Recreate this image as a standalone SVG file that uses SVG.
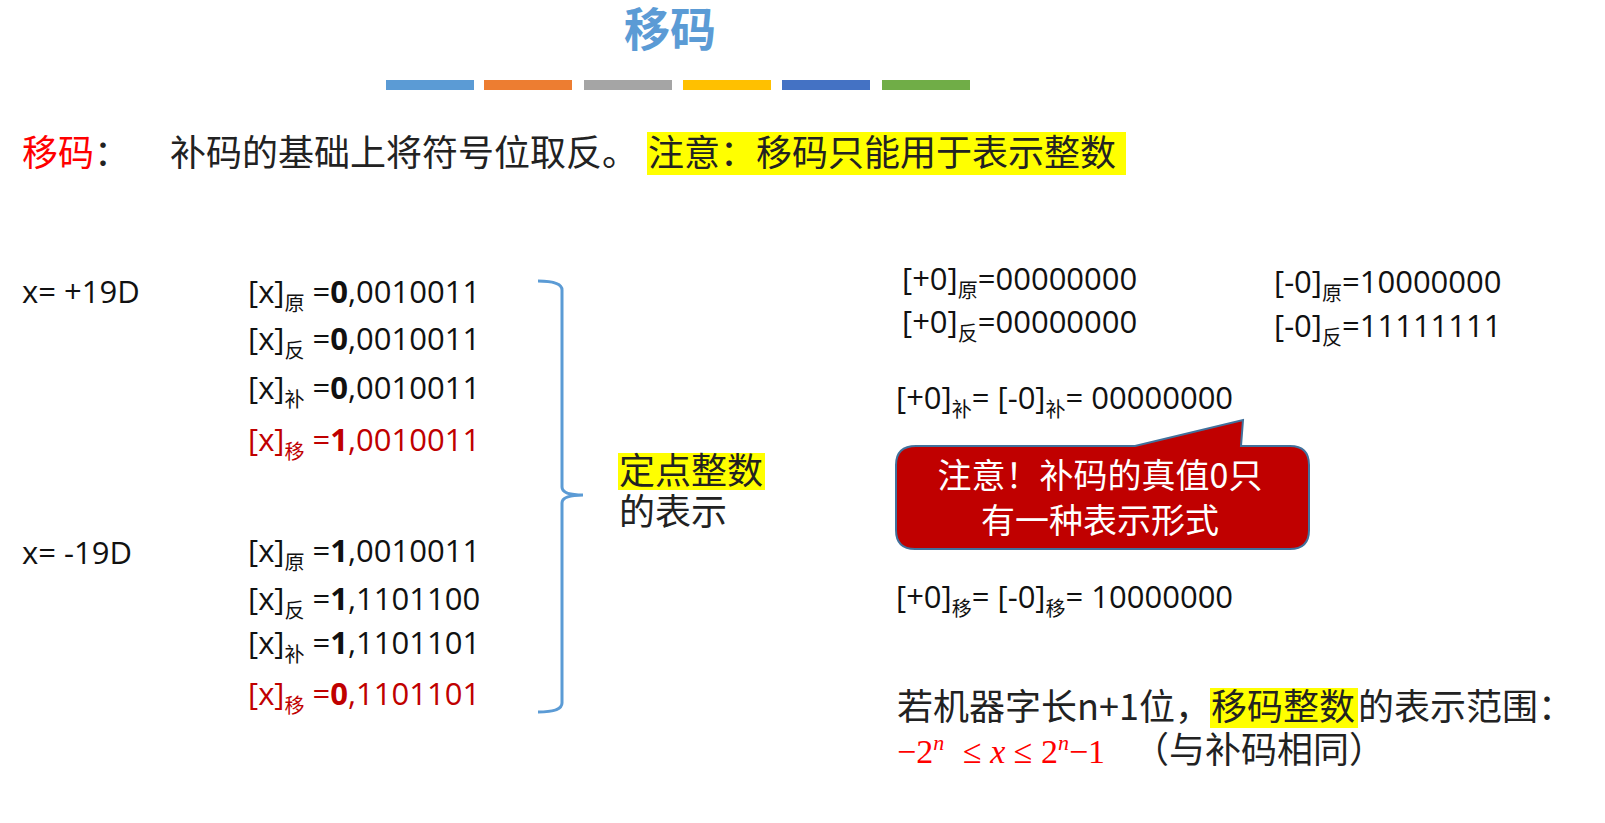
<svg xmlns="http://www.w3.org/2000/svg" width="1605" height="823" viewBox="0 0 1605 823">
<style>
.cn{font-family:"Noto Sans CJK SC",sans-serif;font-size:36px;fill:#222}
.s{font-family:"Open Sans","Noto Sans CJK SC",sans-serif;font-size:31px;fill:#111}
.sub{font-size:20px}
.red{fill:#c00000}
.hl{fill:#ffff00}
</style>
<rect width="1605" height="823" fill="#fff"/>
<g id="title"><text x="670" y="46" text-anchor="middle" font-family="Noto Sans CJK SC,sans-serif" font-size="46" font-weight="bold" fill="#5b9bd5">移码</text>
<rect x="386" y="80" width="88" height="10" fill="#5b9bd5"/><rect x="484" y="80" width="88" height="10" fill="#ed7d31"/><rect x="584" y="80" width="88" height="10" fill="#a5a5a5"/><rect x="683" y="80" width="88" height="10" fill="#ffc000"/><rect x="782" y="80" width="88" height="10" fill="#4472c4"/><rect x="882" y="80" width="88" height="10" fill="#70ad47"/></g>
<g id="def"><rect class="hl" x="647" y="132" width="479" height="43"/>
<text class="cn" x="22" y="166"><tspan fill="#ff0000">移码</tspan>：</text>
<text class="cn" x="170" y="166">补码的基础上将符号位取反。<tspan x="648">注意：移码只能用于表示整数</tspan></text></g>
<g id="left">
<text class="s" x="22" y="303">x= +19D</text>
<text class="s" x="248" y="303">[x]<tspan class="sub" dy="8">原</tspan><tspan dy="-8"> =</tspan><tspan font-weight="bold">0</tspan>,0010011</text>
<text class="s" x="248" y="350">[x]<tspan class="sub" dy="8">反</tspan><tspan dy="-8"> =</tspan><tspan font-weight="bold">0</tspan>,0010011</text>
<text class="s" x="248" y="399">[x]<tspan class="sub" dy="8">补</tspan><tspan dy="-8"> =</tspan><tspan font-weight="bold">0</tspan>,0010011</text>
<text class="s red" x="248" y="451">[x]<tspan class="sub" dy="8">移</tspan><tspan dy="-8"> =</tspan><tspan font-weight="bold">1</tspan>,0010011</text>
<text class="s" x="22" y="564">x= -19D</text>
<text class="s" x="248" y="562">[x]<tspan class="sub" dy="8">原</tspan><tspan dy="-8"> =</tspan><tspan font-weight="bold">1</tspan>,0010011</text>
<text class="s" x="248" y="610">[x]<tspan class="sub" dy="8">反</tspan><tspan dy="-8"> =</tspan><tspan font-weight="bold">1</tspan>,1101100</text>
<text class="s" x="248" y="654">[x]<tspan class="sub" dy="8">补</tspan><tspan dy="-8"> =</tspan><tspan font-weight="bold">1</tspan>,1101101</text>
<text class="s red" x="248" y="705">[x]<tspan class="sub" dy="8">移</tspan><tspan dy="-8"> =</tspan><tspan font-weight="bold">0</tspan>,1101101</text>
</g>
<g id="brace"><path d="M538 281 Q562 281 562 290 L562 487 Q562 495 583 495 Q562 495 562 503 L562 703 Q562 712 538 712" fill="none" stroke="#5b9bd5" stroke-width="3"/></g>
<g id="fixed"><rect class="hl" x="618" y="453" width="147" height="37"/>
<text class="cn" x="619" y="484">定点整数</text><text class="cn" x="619" y="525">的表示</text></g>
<g id="right">
<text class="s" x="902" y="290">[+0]<tspan class="sub" dy="8">原</tspan><tspan dy="-8">=00000000</tspan></text>
<text class="s" x="902" y="333">[+0]<tspan class="sub" dy="8">反</tspan><tspan dy="-8">=00000000</tspan></text>
<text class="s" x="1274" y="293">[-0]<tspan class="sub" dy="8">原</tspan><tspan dy="-8">=10000000</tspan></text>
<text class="s" x="1274" y="337">[-0]<tspan class="sub" dy="8">反</tspan><tspan dy="-8">=11111111</tspan></text>
<text class="s" x="896" y="409">[+0]<tspan class="sub" dy="8">补</tspan><tspan dy="-8">= [-0]</tspan><tspan class="sub" dy="8">补</tspan><tspan dy="-8">= 00000000</tspan></text>
<text class="s" x="896" y="608">[+0]<tspan class="sub" dy="8">移</tspan><tspan dy="-8">= [-0]</tspan><tspan class="sub" dy="8">移</tspan><tspan dy="-8">= 10000000</tspan></text>
</g>
<g id="callout"><path d="M916 446 L1135 446 L1243 420 L1241 446 L1290 446 Q1309 446 1309 465 L1309 530 Q1309 549 1290 549 L915 549 Q896 549 896 530 L896 465 Q896 446 916 446 Z" fill="#c00000" stroke="#41719c" stroke-width="2"/>
<text class="cn" x="1100" y="488" text-anchor="middle" style="fill:#fff;font-size:34px">注意！补码的真值0只</text>
<text class="cn" x="1100" y="533" text-anchor="middle" style="fill:#fff;font-size:34px">有一种表示形式</text></g>
<g id="range"><rect class="hl" x="1210" y="688" width="148" height="40"/>
<text class="cn" x="897" y="720">若机器字长n+1位，<tspan x="1211">移码整数</tspan><tspan x="1358">的表示范围：</tspan></text>
<text x="897" y="763" font-family="Liberation Serif,serif" font-size="34" fill="#ff0000">−2<tspan font-style="italic" font-size="22" dy="-13">n</tspan><tspan x="963" dy="13">≤ </tspan><tspan font-style="italic">x</tspan> ≤ 2<tspan font-style="italic" font-size="22" dy="-13">n</tspan><tspan dy="13">−1</tspan></text>
<text class="cn" x="1133" y="763">（与补码相同）</text></g>
</svg>
